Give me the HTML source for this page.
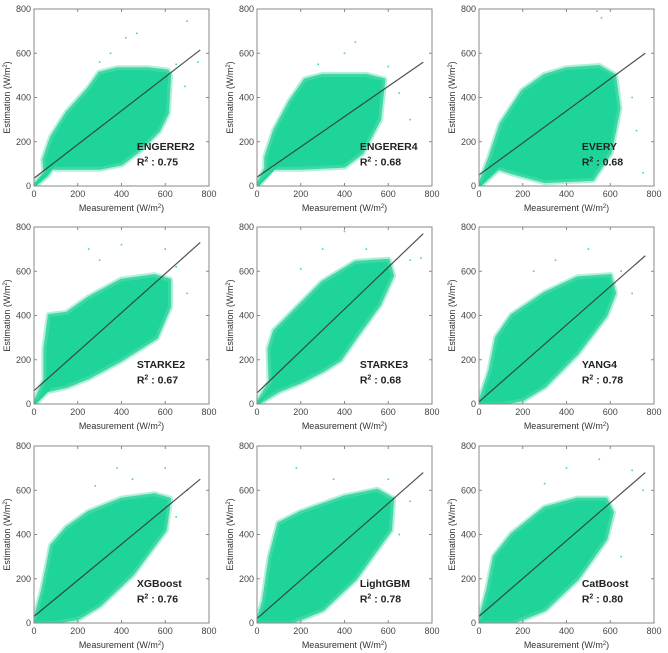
<!DOCTYPE html>
<html><head><meta charset="utf-8"><style>
body{margin:0;background:#fff;}
svg{display:block;font-family:"Liberation Sans",sans-serif;}
</style></head><body>
<svg id="chart" width="668" height="653" viewBox="0 0 668 653" xmlns="http://www.w3.org/2000/svg"></svg>
<script>
const panelNames = ["ENGERER2","ENGERER4","EVERY","STARKE2","STARKE3","YANG4","XGBoost","LightGBM","CatBoost"];
const r2Values = ["0.75","0.68","0.68","0.67","0.68","0.78","0.76","0.78","0.80"];
const fitIntercept = [35,40,50,60,50,10,30,20,30];
const fitEnd = [615,560,600,730,770,670,650,680,680];
const tickValues = [0,200,400,600,800];
const envelopes = [
 [[0,0],[50,60],[45,120],[80,220],[150,330],[250,440],[300,510],[380,530],[520,530],[610,520],[620,500],[610,330],[570,250],[480,160],[400,100],[300,80],[150,80],[80,80],[60,50]],
 [[0,0],[40,80],[40,130],[80,250],[150,380],[220,480],[300,500],[500,500],[580,480],[560,300],[480,150],[400,90],[200,80],[70,80]],
 [[0,0],[50,130],[100,280],[200,430],[300,500],[400,530],[550,540],[620,500],[640,350],[600,150],[520,30],[300,20],[150,60],[90,80]],
 [[0,0],[50,110],[50,250],[70,400],[150,410],[250,480],[400,560],[550,580],[620,560],[620,440],[560,300],[400,200],[250,120],[150,80],[60,60]],
 [[0,0],[60,100],[55,250],[80,330],[150,400],[300,550],[450,640],[600,650],[620,580],[560,450],[450,300],[380,200],[300,150],[200,100],[100,60]],
 [[0,0],[50,150],[80,300],[150,400],[300,500],[450,570],[600,580],[620,500],[580,400],[450,230],[300,80],[200,20],[100,0]],
 [[0,0],[40,150],[80,350],[150,430],[250,500],[400,560],[550,580],[620,560],[600,420],[450,220],[300,80],[200,20],[80,0]],
 [[0,0],[30,100],[60,300],[100,450],[200,500],[400,570],[550,600],[620,560],[610,420],[450,200],[300,60],[150,0]],
 [[0,0],[40,150],[70,300],[150,400],[300,520],[450,560],[580,560],[610,500],[580,380],[450,200],[300,60],[150,0]]
];
const outliers = [
 [[700,745],[420,670],[470,690],[350,600],[650,550],[750,560],[690,450],[300,560]],
 [[400,600],[450,650],[600,540],[650,420],[280,550],[700,300]],
 [[560,760],[540,790],[700,400],[720,250],[650,120],[750,60]],
 [[250,700],[400,720],[650,620],[700,500],[300,650],[600,700]],
 [[400,780],[500,700],[700,650],[750,660],[300,700],[200,610]],
 [[350,650],[500,700],[650,600],[700,500],[250,600]],
 [[380,700],[450,650],[600,700],[700,600],[650,480],[280,620]],
 [[180,700],[350,650],[600,650],[700,550],[650,400]],
 [[400,700],[550,740],[700,690],[750,600],[300,630],[650,300]]
];
const colLeft=[34,257,479], rowTop=[9,227,446], PW=175, PH=177;
const svg=document.getElementById('chart');
const NS="http://www.w3.org/2000/svg";
function mk(t,a,p){const e=document.createElementNS(NS,t);for(const k in a)e.setAttribute(k,a[k]);p.appendChild(e);return e;}
panelNames.forEach((name,i)=>{
 const x0=colLeft[i%3], y0=rowTop[Math.floor(i/3)];
 const sx=v=>x0+v/800*PW, sy=v=>y0+PH-v/800*PH;
 const g=mk('g',{},svg);
 
 
 const cl=mk('clipPath',{id:'c'+i},g); mk('rect',{x:x0,y:y0,width:PW,height:PH},cl);
 const cg=mk('g',{'clip-path':'url(#c'+i+')'},g);
 const pts=envelopes[i].map(p=>sx(p[0])+','+sy(p[1])).join(' ');
 const halo=mk('polygon',{points:pts,fill:'none',stroke:'#7fe6c3','stroke-width':7,'stroke-linejoin':'round','stroke-opacity':0.6},cg);
 
 
 const poly=mk('polygon',{points:pts,fill:'#1fd49a',stroke:'#3fd8a5','stroke-width':3,'stroke-linejoin':'round'},cg);
 
 
 mk('line',{x1:sx(0),y1:sy(0),x2:sx(100),y2:sy(100),stroke:'#1fd49a','stroke-width':2.5},cg);
 outliers[i].forEach(p=>{const c=mk('rect',{x:sx(p[0])-0.8,y:sy(p[1])-0.8,width:1.6,height:1.6,fill:'#3fd8a5'},cg);
  
  });
 const ln=mk('line',{x1:sx(0),y1:sy(fitIntercept[i]),x2:sx(760),y2:sy(fitEnd[i]),stroke:'#333','stroke-width':1.2,'stroke-opacity':0.85},g);
 
 
 const box=mk('rect',{x:x0,y:y0,width:PW,height:PH,fill:'none',stroke:'#888','stroke-width':1},g);
 
 
 tickValues.forEach(v=>{
  mk('line',{x1:sx(v),y1:y0+PH,x2:sx(v),y2:y0+PH-3,stroke:'#888'},g);
  mk('line',{x1:sx(v),y1:y0,x2:sx(v),y2:y0+3,stroke:'#888'},g);
  mk('line',{x1:x0,y1:sy(v),x2:x0+3,y2:sy(v),stroke:'#888'},g);
  mk('line',{x1:x0+PW,y1:sy(v),x2:x0+PW-3,y2:sy(v),stroke:'#888'},g);
  const tx=mk('text',{x:sx(v),y:y0+PH+11,'font-size':9,'text-anchor':'middle',fill:'#444'},g);tx.textContent=v;
  
  const ty=mk('text',{x:x0-3,y:sy(v)+3,'font-size':9,'text-anchor':'end',fill:'#444'},g);ty.textContent=v;
  
 });
 const xl=mk('text',{x:x0+PW/2,y:y0+PH+25,'font-size':9,'text-anchor':'middle',fill:'#333'},g);
 xl.innerHTML='Measurement (W/m<tspan font-size="6" dy="-3">2</tspan><tspan dy="3">)</tspan>';
 
 const yl=mk('text',{x:0,y:0,'font-size':9,'text-anchor':'middle',fill:'#333',transform:'translate('+(x0-24)+','+(y0+PH/2)+') rotate(-90)'},g);
 yl.innerHTML='Estimation (W/m<tspan font-size="6" dy="-3">2</tspan><tspan dy="3">)</tspan>';
 
 const nl=mk('text',{x:sx(470),y:sy(180)+4,'font-size':10.5,'font-weight':'bold',fill:'#222'},g);nl.textContent=name;
 
 const rl=mk('text',{x:sx(470),y:sy(110)+4,'font-size':10.5,'font-weight':'bold',fill:'#222'},g);
 rl.innerHTML='R<tspan font-size="7" dy="-4">2</tspan><tspan dy="4"> : '+r2Values[i]+'</tspan>';
 
});
</script>
</body></html>
